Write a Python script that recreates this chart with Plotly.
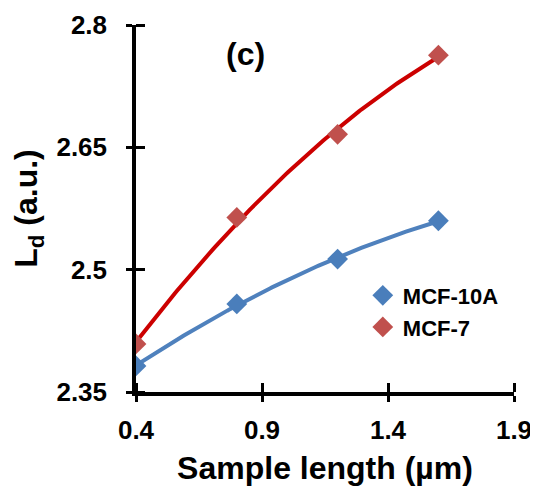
import numpy as np
import plotly.graph_objects as go

sample_length = [0.4, 0.8, 1.2, 1.6]
mcf10a = [2.382, 2.458, 2.513, 2.560]
mcf7 = [2.409, 2.564, 2.666, 2.763]

x_ticks = [0.4, 0.9, 1.4, 1.9]
x_tick_labels = ["0.4", "0.9", "1.4", "1.9"]
y_ticks = [2.35, 2.5, 2.65, 2.8]
y_tick_labels = ["2.35", "2.5", "2.65", "2.8"]

FONT = "Liberation Sans, Arial, sans-serif"
BLUE_LINE = "#4F81BD"
BLUE_MARK = "#4A7EBB"
RED_LINE = "#CC0000"
RED_MARK = "#C0504D"

# second-order polynomial trendlines (as in the original spreadsheet chart)
x_fit = np.linspace(min(sample_length), max(sample_length), 150)
fit10a = np.polyval(np.polyfit(sample_length, mcf10a, 2), x_fit)
fit7 = np.polyval(np.polyfit(sample_length, mcf7, 2), x_fit)

fig = go.Figure()
fig.add_trace(go.Scatter(x=x_fit, y=fit10a, mode="lines",
                         line=dict(color=BLUE_LINE, width=4),
                         showlegend=False, hoverinfo="skip"))
fig.add_trace(go.Scatter(x=x_fit, y=fit7, mode="lines",
                         line=dict(color=RED_LINE, width=4),
                         showlegend=False, hoverinfo="skip"))
fig.add_trace(go.Scatter(x=sample_length, y=mcf10a, mode="markers", name="MCF-10A",
                         marker=dict(symbol="diamond", size=16, color=BLUE_MARK)))
fig.add_trace(go.Scatter(x=sample_length, y=mcf7, mode="markers", name="MCF-7",
                         marker=dict(symbol="diamond", size=16, color=RED_MARK)))

xr = [x_ticks[0], x_ticks[-1]]
yr = [y_ticks[0], y_ticks[-1]]

axis_common = dict(showgrid=False, zeroline=False, automargin=False,
                   showline=True, linecolor="black", linewidth=3.5,
                   ticks="outside", ticklen=6, tickwidth=3, tickcolor="black",
                   tickfont=dict(family=FONT, size=26, color="black", weight="bold"))

# the page body adds an 8 px offset, so the figure is 8 px smaller than the window
fig.update_layout(
    width=530, height=484,
    margin=dict(l=128, r=24, t=17, b=100),
    paper_bgcolor="white", plot_bgcolor="white",
    font=dict(family=FONT, color="black"),
    xaxis=dict(range=xr, tickvals=x_ticks, ticktext=x_tick_labels,
               minor=dict(tickvals=x_ticks, ticks="inside", ticklen=9,
                          tickwidth=3, tickcolor="black"),
               ticklabelstandoff=6,
               title=dict(text="<b>Sample length (µm)</b>",
                          font=dict(family=FONT, size=32, color="black"), standoff=14),
               **axis_common),
    yaxis=dict(range=yr, tickvals=y_ticks, ticktext=y_tick_labels,
               minor=dict(tickvals=y_ticks, ticks="inside", ticklen=9,
                          tickwidth=3, tickcolor="black"),
               ticklabelstandoff=14,
               title=dict(text="<b>L<sub>d</sub> (a.u.)</b>",
                          font=dict(family=FONT, size=32, color="black"), standoff=10),
               **axis_common),
    legend=dict(x=0.60, y=0.32, xanchor="left", yanchor="top",
                bgcolor="rgba(0,0,0,0)", borderwidth=0,
                font=dict(family=FONT, size=22, color="black", weight="bold"),
                tracegroupgap=0, itemwidth=30),
    annotations=[dict(text="<b>(c)</b>", x=0.29, y=0.92, xref="paper", yref="paper",
                      xanchor="center", yanchor="middle", showarrow=False,
                      font=dict(family=FONT, size=32, color="black"))],
)

fig.write_html("out.html")
